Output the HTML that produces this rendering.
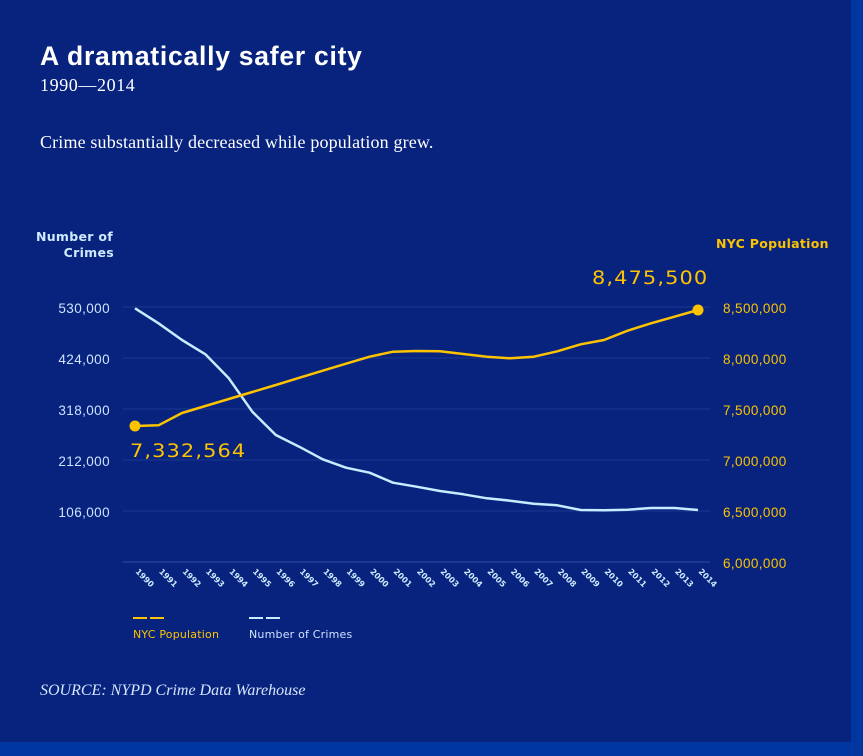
<!DOCTYPE html>
<html><head><meta charset="utf-8">
<style>
html,body{margin:0;padding:0;background:#0036a0;}
body{width:863px;height:756px;overflow:hidden;position:relative;}
svg{position:absolute;left:0;top:0;}
</style></head>
<body>
<svg width="863" height="756" viewBox="0 0 863 756" xmlns="http://www.w3.org/2000/svg">
<rect x="0" y="0" width="863" height="756" fill="#0036a0"/>
<rect x="0" y="0" width="851" height="742" fill="#07237e"/>

<text x="40" y="65" font-family="Liberation Sans, sans-serif" font-weight="bold" font-size="26.5" fill="#ffffff" letter-spacing="0.75">A dramatically safer city</text>
<text x="40" y="91" font-family="Liberation Serif, serif" font-size="18" fill="#ffffff" letter-spacing="0.6">1990—2014</text>
<text x="40" y="148" font-family="Liberation Serif, serif" font-size="18" fill="#ffffff" letter-spacing="0.15">Crime substantially decreased while population grew.</text>

<!-- axis titles -->
<text x="113" y="241" text-anchor="end" font-family="DejaVu Sans, sans-serif" font-weight="bold" font-size="12.5" fill="#cfe9ff" letter-spacing="0.3">Number of</text>
<text x="114" y="257" text-anchor="end" font-family="DejaVu Sans, sans-serif" font-weight="bold" font-size="12.5" fill="#cfe9ff" letter-spacing="0.3">Crimes</text>
<text x="716" y="248" font-family="DejaVu Sans, sans-serif" font-weight="bold" font-size="12.5" fill="#fdc300" letter-spacing="0.3">NYC Population</text>

<!-- grid -->
<g stroke="#14318c" stroke-width="1.5">
<line x1="123" y1="307" x2="710" y2="307"/>
<line x1="123" y1="358" x2="710" y2="358"/>
<line x1="123" y1="409" x2="710" y2="409"/>
<line x1="123" y1="460" x2="710" y2="460"/>
<line x1="123" y1="511" x2="710" y2="511"/>
</g>
<line x1="123" y1="562" x2="710" y2="562" stroke="#1a3892" stroke-width="2"/>

<!-- left ticks -->
<g font-family="Liberation Sans, sans-serif" font-size="13.5" fill="#cde3ff" text-anchor="end" letter-spacing="0.4">
<text x="110" y="313">530,000</text>
<text x="110" y="364">424,000</text>
<text x="110" y="415">318,000</text>
<text x="110" y="466">212,000</text>
<text x="110" y="517">106,000</text>
</g>
<!-- right ticks -->
<g font-family="Liberation Sans, sans-serif" font-size="13.5" fill="#fdc300" letter-spacing="0.4">
<text x="723" y="313">8,500,000</text>
<text x="723" y="364">8,000,000</text>
<text x="723" y="415">7,500,000</text>
<text x="723" y="466">7,000,000</text>
<text x="723" y="517">6,500,000</text>
<text x="723" y="568">6,000,000</text>
</g>

<!-- crimes line -->
<polyline fill="none" stroke="#c6ecff" stroke-width="2.5" stroke-linejoin="round"
points="135,308.3 158.5,323.3 182,340 205.4,354.3 228.8,378.3 252.3,411.7 275.8,435 299.2,446.7 322.7,459.3 346,467.7 369.6,472.7 393,482.7 416.5,486.7 440,491 463.4,494.3 486.9,498.3 510.3,500.7 533.8,503.7 557.3,505.3 580.7,510 604,510.3 627.6,509.7 651,508 674.5,508 698,510"/>

<!-- population line -->
<polyline fill="none" stroke="#fdc300" stroke-width="2.5" stroke-linejoin="round"
points="135,426 158.5,425.3 182,413 205.4,406 228.8,399 252.3,392 275.8,385 299.2,377.8 322.7,370.7 346,363.7 369.6,356.7 393,351.7 416.5,351 440,351.3 463.4,354 486.9,356.7 510.3,358.3 533.8,356.7 557.3,351.3 580.7,344.3 604,340 627.6,330.7 651,323.3 674.5,316.7 698,310"/>
<circle cx="135" cy="426" r="5.5" fill="#fdc300"/>
<circle cx="698" cy="310" r="5.5" fill="#fdc300"/>

<text transform="translate(130,457) scale(1.1,1)" font-family="DejaVu Sans, sans-serif" font-size="19" fill="#fdc300" letter-spacing="1">7,332,564</text>
<text transform="translate(592,284) scale(1.1,1)" font-family="DejaVu Sans, sans-serif" font-size="19" fill="#fdc300" letter-spacing="1">8,475,500</text>

<!-- year labels -->
<g font-family="DejaVu Sans, sans-serif" font-weight="bold" font-size="8" fill="#cfe9ff">
<text transform="translate(135,572) rotate(45)">1990</text>
<text transform="translate(158.5,572) rotate(45)">1991</text>
<text transform="translate(182,572) rotate(45)">1992</text>
<text transform="translate(205.4,572) rotate(45)">1993</text>
<text transform="translate(228.8,572) rotate(45)">1994</text>
<text transform="translate(252.3,572) rotate(45)">1995</text>
<text transform="translate(275.8,572) rotate(45)">1996</text>
<text transform="translate(299.2,572) rotate(45)">1997</text>
<text transform="translate(322.7,572) rotate(45)">1998</text>
<text transform="translate(346,572) rotate(45)">1999</text>
<text transform="translate(369.6,572) rotate(45)">2000</text>
<text transform="translate(393,572) rotate(45)">2001</text>
<text transform="translate(416.5,572) rotate(45)">2002</text>
<text transform="translate(440,572) rotate(45)">2003</text>
<text transform="translate(463.4,572) rotate(45)">2004</text>
<text transform="translate(486.9,572) rotate(45)">2005</text>
<text transform="translate(510.3,572) rotate(45)">2006</text>
<text transform="translate(533.8,572) rotate(45)">2007</text>
<text transform="translate(557.3,572) rotate(45)">2008</text>
<text transform="translate(580.7,572) rotate(45)">2009</text>
<text transform="translate(604,572) rotate(45)">2010</text>
<text transform="translate(627.6,572) rotate(45)">2011</text>
<text transform="translate(651,572) rotate(45)">2012</text>
<text transform="translate(674.5,572) rotate(45)">2013</text>
<text transform="translate(698,572) rotate(45)">2014</text>
</g>

<!-- legend -->
<g stroke-width="2">
<line x1="133" y1="618" x2="147" y2="618" stroke="#fdc300"/>
<line x1="150" y1="618" x2="164" y2="618" stroke="#fdc300"/>
<line x1="249" y1="618" x2="263" y2="618" stroke="#c6ecff"/>
<line x1="266" y1="618" x2="280" y2="618" stroke="#c6ecff"/>
</g>
<text x="133" y="638" font-family="DejaVu Sans, sans-serif" font-size="11" fill="#fdc300" letter-spacing="0.2">NYC Population</text>
<text x="249" y="638" font-family="DejaVu Sans, sans-serif" font-size="11" fill="#cfe3ff" letter-spacing="0.2">Number of Crimes</text>

<text x="40" y="695" font-family="Liberation Serif, serif" font-style="italic" font-size="16" fill="#d6e6ff">SOURCE: NYPD Crime Data Warehouse</text>
</svg>
</body></html>
